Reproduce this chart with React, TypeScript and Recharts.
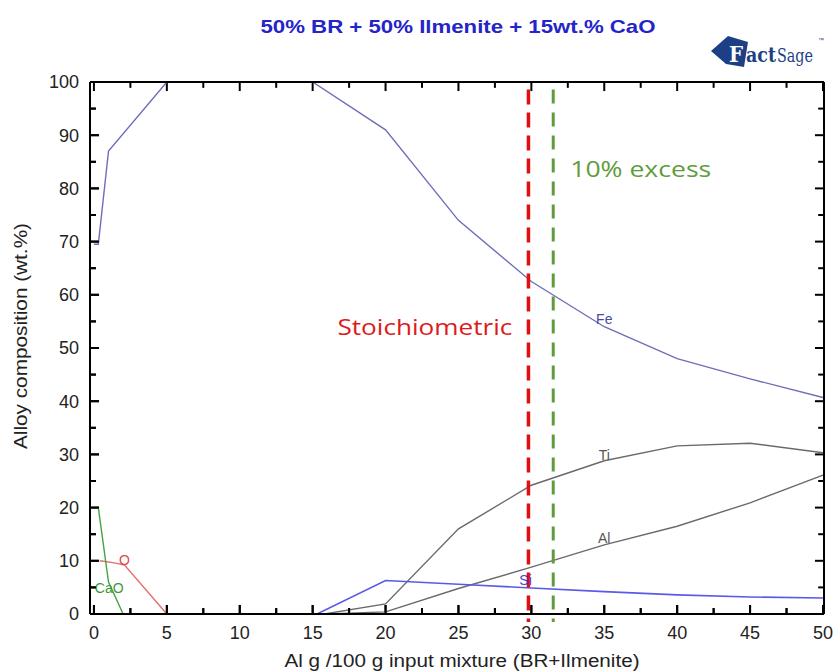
import React from 'react';
import { LineChart, Line, XAxis, YAxis, ReferenceLine, ReferenceDot } from 'recharts';

const feData = [
  { x: 0, y: 69.5 }, { x: 0.3, y: 69.5 }, { x: 1, y: 87 }, { x: 5, y: 100 }, { x: 15, y: 100 },
  { x: 20, y: 91 }, { x: 25, y: 74 }, { x: 30, y: 62.5 }, { x: 35, y: 54 }, { x: 40, y: 48 },
  { x: 45, y: 44.2 }, { x: 50, y: 40.7 },
];
const tiData = [
  { x: 15.8, y: 0 }, { x: 20, y: 1.9 }, { x: 25, y: 16 }, { x: 30, y: 24.2 }, { x: 35, y: 28.8 },
  { x: 40, y: 31.6 }, { x: 45, y: 32.1 }, { x: 50, y: 30.3 },
];
const alData = [
  { x: 16, y: 0 }, { x: 20, y: 0.4 }, { x: 25, y: 4.8 }, { x: 30, y: 8.8 }, { x: 35, y: 13 },
  { x: 40, y: 16.5 }, { x: 45, y: 20.9 }, { x: 50, y: 26.1 },
];
const siData = [
  { x: 15.3, y: 0 }, { x: 20, y: 6.3 }, { x: 25, y: 5.6 }, { x: 30, y: 4.9 }, { x: 35, y: 4.2 },
  { x: 40, y: 3.6 }, { x: 45, y: 3.2 }, { x: 50, y: 3.0 },
];
const oData = [
  { x: 0.4, y: 10 }, { x: 1.4, y: 9.6 }, { x: 2.1, y: 9.2 }, { x: 5, y: 0 },
];
const caoData = [
  { x: 0, y: 20 }, { x: 0.3, y: 20 }, { x: 1, y: 6 }, { x: 2, y: 0 },
];

const xTicks = [0, 2.5, 5, 7.5, 10, 12.5, 15, 17.5, 20, 22.5, 25, 27.5, 30, 32.5, 35, 37.5, 40, 42.5, 45, 47.5, 50];
const yTicks = [0, 5, 10, 15, 20, 25, 30, 35, 40, 45, 50, 55, 60, 65, 70, 75, 80, 85, 90, 95, 100];

const X_MIN = -0.27;
const X_MAX = 50.07;
const stoichX = 29.8;
const excessX = 31.5;

const seriesLabels = [
  { x: 35, y: 55.5, text: 'Fe', color: '#4a4aa0' },
  { x: 35, y: 29.9, text: 'Ti', color: '#555555' },
  { x: 35, y: 14.3, text: 'Al', color: '#555555' },
  { x: 29.6, y: 6.4, text: 'Si', color: '#4444dd' },
  { x: 2.1, y: 10.1, text: 'O', color: '#e04848' },
  { x: 1.05, y: 4.9, text: 'CaO', color: '#3a9a3a' },
];

const FONT = 'Liberation Sans, Arial, sans-serif';
const W = 837;
const H = 671;

// tick lengths in axis units (about 9px major, 6px minor)
const XT_MAJ = 1.7;
const XT_MIN = 1.1;
const YT_MAJ = 0.62;
const YT_MIN = 0.4;

type Seg = { key: string; a: { x: number; y: number }; b: { x: number; y: number } };
const tickSegs: Seg[] = [];
xTicks.forEach((t) => {
  const len = t % 5 === 0 ? XT_MAJ : XT_MIN;
  tickSegs.push({ key: 'xb' + t, a: { x: t, y: 0 }, b: { x: t, y: len } });
  tickSegs.push({ key: 'xt' + t, a: { x: t, y: 100 }, b: { x: t, y: 100 - len } });
});
yTicks.forEach((t) => {
  const len = t % 10 === 0 ? YT_MAJ : YT_MIN;
  tickSegs.push({ key: 'yl' + t, a: { x: X_MIN, y: t }, b: { x: X_MIN + len, y: t } });
  tickSegs.push({ key: 'yr' + t, a: { x: X_MAX, y: t }, b: { x: X_MAX - len, y: t } });
});

const BottomTick = (props: any) => {
  const { x, y, payload } = props;
  const v = payload.value;
  const major = v % 5 === 0;
  const ay = Number(y);
  return (
    <g>
      <line x1={x} x2={x} y1={ay} y2={ay - (major ? 9 : 6)} stroke="#000" strokeWidth={2} />
      {major && <text x={x} y={ay + 25} textAnchor="middle" fontSize={18} fontFamily={FONT} fill="#222">{v}</text>}
    </g>
  );
};
const LeftTick = (props: any) => {
  const { x, y, payload } = props;
  const v = payload.value;
  const major = v % 10 === 0;
  const ax = Number(x);
  return (
    <g>
      <line x1={ax} x2={ax + (major ? 9 : 6)} y1={y} y2={y} stroke="#000" strokeWidth={2} />
      {major && <text x={ax - 11} y={y} dy="0.36em" textAnchor="end" fontSize={18} fontFamily={FONT} fill="#222">{v}</text>}
    </g>
  );
};

const makeLabel = (text: string, color: string, size: number, family: string, len?: number) => (p: any) => {
  const vb = p.viewBox || {};
  const cx = (vb.x || 0) + (vb.width || 0) / 2;
  const cy = (vb.y || 0) + (vb.height || 0) / 2;
  return (
    <text x={cx} y={cy} dy="0.35em" textAnchor="middle" fontSize={size} fontFamily={family} fill={color}
      {...(len ? { textLength: len, lengthAdjust: 'spacingAndGlyphs' } : {})}>
      {text}
    </text>
  );
};

const axisLine = { stroke: '#000', strokeWidth: 2 };

export default function App() {
  return (
    <div style={{ position: 'absolute', left: 0, top: 0, width: W, height: H, background: '#fff' }}>
      <LineChart width={W} height={H} margin={{ top: 72, right: 3, bottom: 27, left: 30 }}>
        <XAxis dataKey="x" type="number" domain={[X_MIN, X_MAX]} ticks={xTicks} interval={0}
          allowDataOverflow height={30} tickSize={0} tickMargin={0} tickLine={false}
          axisLine={axisLine} tick={<BottomTick />} />
        <XAxis xAxisId="top" orientation="top" dataKey="x" type="number" domain={[X_MIN, X_MAX]} ticks={xTicks}
          interval={0} allowDataOverflow height={10} tickLine={false} axisLine={axisLine} tick={false} />
        <YAxis type="number" domain={[0, 100]} ticks={yTicks} interval={0} allowDataOverflow width={60}
          tickSize={0} tickMargin={0} tickLine={false} axisLine={axisLine} tick={<LeftTick />} />
        <YAxis yAxisId="right" orientation="right" type="number" domain={[0, 100]} ticks={yTicks} interval={0}
          allowDataOverflow width={10} tickLine={false} axisLine={axisLine} tick={false} />

        {tickSegs.map((s) => (
          <ReferenceLine key={s.key} segment={[s.a, s.b]} stroke="#000" strokeWidth={2} ifOverflow="visible" />
        ))}

        <Line data={feData} dataKey="y" stroke="#6e6eba" strokeWidth={1.4} dot={false} isAnimationActive={false} />
        <Line data={tiData} dataKey="y" stroke="#6a6a6a" strokeWidth={1.4} dot={false} isAnimationActive={false} />
        <Line data={alData} dataKey="y" stroke="#6a6a6a" strokeWidth={1.4} dot={false} isAnimationActive={false} />
        <Line data={siData} dataKey="y" stroke="#5a5ae8" strokeWidth={1.6} dot={false} isAnimationActive={false} />
        <Line data={oData} dataKey="y" stroke="#e86a6a" strokeWidth={1.4} dot={false} isAnimationActive={false} />
        <Line data={caoData} dataKey="y" stroke="#44a444" strokeWidth={1.4} dot={false} isAnimationActive={false} />

        <ReferenceLine segment={[{ x: stoichX, y: 98.6 }, { x: stoichX, y: -1.5 }]} stroke="#e01010"
          strokeWidth={3.5} strokeDasharray="15 8" ifOverflow="visible" />
        <ReferenceLine segment={[{ x: excessX, y: 98.6 }, { x: excessX, y: -1.5 }]} stroke="#5e9c3c"
          strokeWidth={3} strokeDasharray="14 9" ifOverflow="visible" />

        {seriesLabels.map((l) => (
          <ReferenceDot key={l.text} x={l.x} y={l.y} r={0} fill="none" stroke="none"
            label={{ content: makeLabel(l.text, l.color, 14, FONT) }} />
        ))}
        <ReferenceDot x={22.7} y={53.8} r={0} fill="none" stroke="none"
          label={{ content: makeLabel('Stoichiometric', '#dd1a1a', 22, 'Open Sans, sans-serif', 175) }} />
        <ReferenceDot x={37.5} y={83.6} r={0} fill="none" stroke="none"
          label={{ content: makeLabel('10% excess', '#5e9c3c', 22, 'Open Sans, sans-serif', 141) }} />
      </LineChart>
      <svg width={W} height={H} style={{ position: 'absolute', left: 0, top: 0, pointerEvents: 'none' }}>
        <text x={458} y={33} textAnchor="middle" fontSize={19} fontWeight="bold" fontFamily={FONT} fill="#2424c8"
          textLength={395} lengthAdjust="spacingAndGlyphs">50% BR + 50% Ilmenite + 15wt.% CaO</text>
        <g>
          <path d="M711,51 L728,36 L748,42 L744,67 L726,64 Z" fill="#1d3f86" />
          <text x={729} y={62} fontSize={22} fontWeight="bold" fontFamily="DejaVu Serif, serif" fill="#ffffff"
            textLength={14} lengthAdjust="spacingAndGlyphs">F</text>
          <text x={746} y={62} fontSize={20} fontWeight="bold" fontFamily="DejaVu Serif, serif" fill="#1d3f86"
            textLength={30} lengthAdjust="spacingAndGlyphs">act</text>
          <text x={777} y={62} fontSize={19} fontFamily="DejaVu Serif, serif" fill="#1d3f86"
            textLength={36} lengthAdjust="spacingAndGlyphs">Sage</text>
          <text x={818} y={42} fontSize={6} fontFamily={FONT} fill="#1d3f86">™</text>
        </g>
        <text x={462} y={667} textAnchor="middle" fontSize={18} fontFamily={FONT} fill="#222"
          textLength={355} lengthAdjust="spacingAndGlyphs">Al g /100 g input mixture (BR+Ilmenite)</text>
        <text x={27} y={336} textAnchor="middle" fontSize={18} fontFamily={FONT} fill="#222"
          transform="rotate(-90 27 336)" textLength={226} lengthAdjust="spacingAndGlyphs">Alloy composition (wt.%)</text>
      </svg>
    </div>
  );
}
